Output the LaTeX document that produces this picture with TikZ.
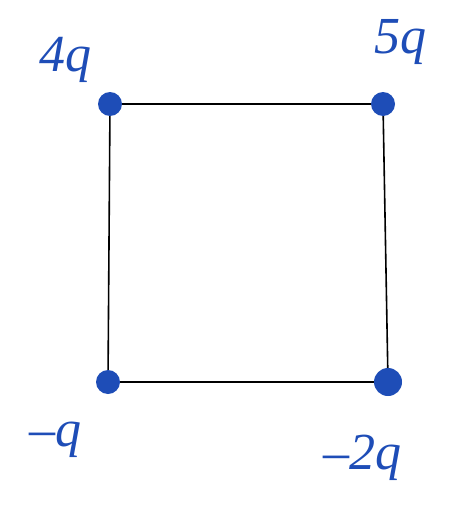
\documentclass[tikz,border=0pt]{standalone}
\usepackage{fontspec}
\setmainfont{Liberation Serif}
\definecolor{ink}{HTML}{1E4DB7}
\begin{document}
\begin{tikzpicture}[x=1pt,y=-1pt,
  charge/.style={circle,fill=ink,inner sep=0pt,minimum size=24pt},
  lbl/.style={text=ink,font=\fontsize{52}{52}\selectfont\itshape}]
\useasboundingbox (0,0) rectangle (457,514);
\coordinate (A) at (110,104);
\coordinate (B) at (383,104);
\coordinate (C) at (388,382);
\coordinate (D) at (108,382);
\draw[line width=1.6pt] (A) -- (B) -- (C) -- (D) -- cycle;
\node[charge] (a) at (A) {};
\node[charge] (b) at (B) {};
\node[charge,minimum size=28pt] (c) at (C) {};
\node[charge] (d) at (D) {};
\node[lbl] (la) at (65,60) {4q};
\node[lbl] (lb) at (400,42) {5q};
\node[lbl] (ld) at (55,440) {–q};
\node[lbl] (lc) at (362,458) {–2q};
\end{tikzpicture}
\end{document}
